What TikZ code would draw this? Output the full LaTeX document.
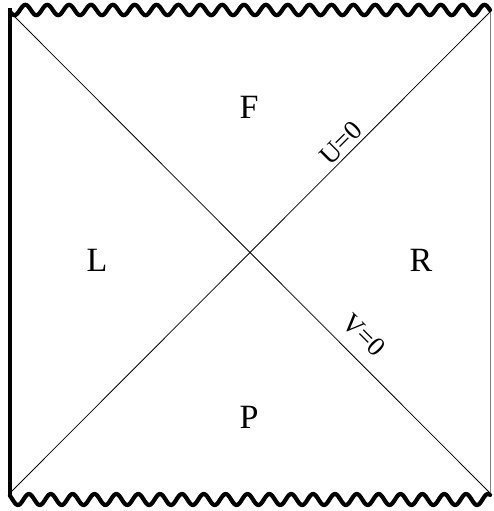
\documentclass[tikz,border=0pt]{standalone}
\usepackage{fontspec}
\setmainfont{Liberation Serif}
\begin{document}
\begin{tikzpicture}[x=1pt,y=-1pt,
  wave/.style={line width=4.2pt, line join=round, line cap=round},
  edge/.style={line width=0.8pt},
  big/.style={font=\fontsize{34}{40}\selectfont, inner sep=0pt, anchor=base},
  small/.style={font=\fontsize{27}{32}\selectfont, inner sep=0pt}]
\useasboundingbox (0,0) rectangle (493,511);
\coordinate (TL) at (10,12);
\coordinate (TR) at (490,12);
\coordinate (BL) at (10,493);
\coordinate (BR) at (490,493);
% wavy singularities
\draw[wave] plot[domain=10:490, samples=500, smooth] (\x, {10 + 5.2*sin(16.4684*(\x-9))});
\draw[wave] plot[domain=10:490, samples=500, smooth] (\x, {499.5 + 5.5*sin(16.4684*(\x-12.5))});
% edges
\draw[line width=4pt] (10,8) -- (10,495);
\draw[gray, line width=1pt] (490.5,12) -- (490.5,493);
% horizons
\draw[edge] (TL) -- (BR);
\draw[edge] (BL) -- (TR);
% labels
\node[big] (F) at (249,118) {F};
\node[big] (P) at (249,428) {P};
\node[big] (L) at (97,271) {L};
\node[big] (R) at (421,271) {R};
\node[small, rotate=45] (U) at (341,143) {U=0};
\node[small, rotate=-45] (V) at (364,335) {V=0};
\end{tikzpicture}
\end{document}
